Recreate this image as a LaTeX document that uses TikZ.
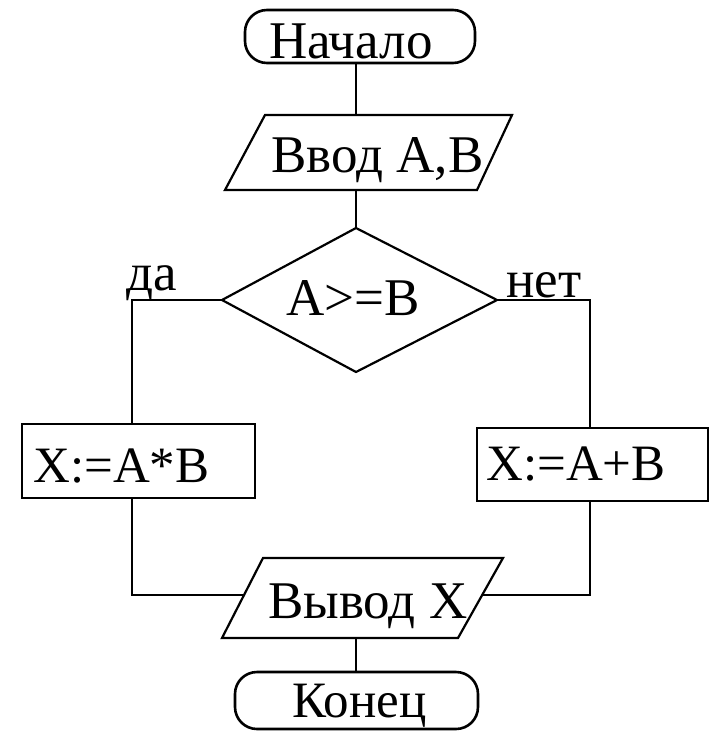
\documentclass[tikz,border=0pt]{standalone}
\usepackage{fontspec}
\setmainfont{Liberation Serif}
\usetikzlibrary{calc}
\begin{document}
\begin{tikzpicture}[x=1pt,y=-1pt,line width=2.6pt,
  txt/.style={inner sep=0pt,font=\fontsize{53}{60}\selectfont,anchor=base west},
  btxt/.style={inner sep=0pt,font=\fontsize{51}{60}\selectfont,anchor=base west},
  term/.style={draw,rounded corners=22pt,inner sep=0pt},
  proc/.style={draw,inner sep=0pt},
  slant/.style={line width=2.2pt,line join=miter}]
\useasboundingbox (0,0) rectangle (714,731);
% start
\node[term,minimum width=230pt,minimum height=53pt] (start) at (360,36.5) {};
\node[txt] (tstart) at (268,58) {Начало};
% input
\coordinate (i1tl) at (265,115);
\coordinate (i1tr) at (512,115);
\coordinate (i1br) at (477,190);
\coordinate (i1bl) at (225,190);
\draw[slant] (i1tl) -- (i1tr) -- (i1br) -- (i1bl) -- cycle;
\node[txt] (tin) at (270,172) {Ввод А,В};
% decision
\coordinate (dn) at (356,228);
\coordinate (de) at (497,300);
\coordinate (ds) at (356,372);
\coordinate (dw) at (222,300);
\draw[slant] (dn) -- (de) -- (ds) -- (dw) -- cycle;
\node[txt] (tdec) at (285,315) {A>=B};
\node[txt] (tyes) at (125,290) {да};
\node[txt] (tno) at (505,297) {нет};
% boxes
\node[proc,minimum width=233pt,minimum height=74pt] (lbox) at (138.5,461) {};
\node[btxt] (tl) at (32,482) {X:=A*B};
\node[proc,minimum width=231pt,minimum height=73pt] (rbox) at (592.5,464.5) {};
\node[btxt] (tr) at (485,480) {X:=A+B};
% output
\coordinate (otl) at (263,558);
\coordinate (otr) at (503,558);
\coordinate (obr) at (458,638);
\coordinate (obl) at (222,638);
\draw[slant] (otl) -- (otr) -- (obr) -- (obl) -- cycle;
\coordinate (oW) at (244,595);
\coordinate (oE) at (482,595);
\node[txt] (tout) at (267,618) {Вывод X};
% end
\node[term,minimum width=243pt,minimum height=57pt] (end) at (356.5,700.5) {};
\node[txt,font=\fontsize{51}{60}\selectfont] (tend) at (291,717) {Конец};
% connectors
\coordinate (lx) at (132,300);
\coordinate (rx) at (590,300);
\draw (start.south -| dn) -- (i1tl -| dn);
\draw (i1bl -| dn) -- (dn);
\draw (dw) -- (lx) -- (lx |- lbox.north);
\draw (de) -- (rx) -- (rx |- rbox.north);
\draw (lx |- lbox.south) -- (lx |- oW) -- (oW);
\draw (rx |- rbox.south) -- (rx |- oE) -- (oE);
\draw (obl -| ds) -- (end.north -| ds);
\end{tikzpicture}
\end{document}
